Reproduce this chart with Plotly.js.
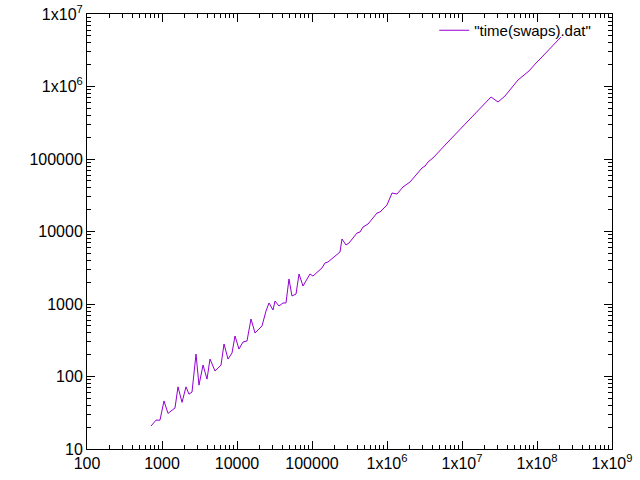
<!DOCTYPE html>
<html>
<head>
<script src="https://cdn.plot.ly/plotly-3.0.1.min.js"></script>
<style>body{margin:0;background:#fff}</style>
</head>
<body>
<div id="chart" style="width:640px;height:480px"></div>
<script>
// swaps vs time
let swaps = [713, 832, 940, 1063, 1202, 1359, 1490, 1634, 1849, 2089, 2291, 2512, 2840, 3113, 3524, 3981,
  4365, 5093, 6124, 6714, 7586, 8577, 9405, 10630, 12020, 13590, 15370, 17380, 21540, 24370, 26730, 30200,
  32140, 36310, 41050, 45000, 49320, 54080, 61240, 67140, 75860, 94000, 103000, 135900, 149000, 163300,
  222300, 236000, 251200, 283800, 311200, 398100, 436500, 478600, 558500, 735600, 807000, 1.0e6, 1.167e6,
  1.359e6, 1.634e6, 2.027e6, 2.931e6, 3.214e6, 3.524e6, 4.103e6, 6.31e6, 1.403e7, 1.849e7, 2.438e7,
  3.02e7, 3.741e7, 5.585e7, 7.82e7, 1.0e8, 1.097e8, 2.089e8];
let times = [20.7, 25, 25, 46, 31, 34.5, 36.8, 72, 44, 72, 57, 61, 204, 76, 144, 92,
  174, 119, 144, 281, 174, 211, 362, 239, 299, 309, 621, 398, 498, 800, 1033, 826,
  1099, 938, 1033, 1033, 2213, 1288, 1374, 2594, 1770, 2594, 2432, 3141, 3681, 3797,
  5047, 5212, 7889, 6517, 6938, 9528, 9840, 11530, 12690, 17990, 18580, 23230, 33960,
  32890, 41110, 48190, 75160, 80000, 91000, 103300, 166300, 391700, 521200, 716100,
  611000, 739600, 1.23e6, 1.637e6, 2.18e6, 2.393e6, 4.82e6];
let xTickVals = [100, 1000, 10000, 100000, 1e6, 1e7, 1e8, 1e9];
let xTickText = ['100', '1000', '10000', '100000', '1x10<sup>6</sup>', '1x10<sup>7</sup>', '1x10<sup>8</sup>', '1x10<sup>9</sup>'];
let yTickVals = [10, 100, 1000, 10000, 100000, 1e6, 1e7];
let yTickText = ['10', '100', '1000', '10000', '100000', '1x10<sup>6</sup>', '1x10<sup>7</sup>'];

let axisBase = {
  type: 'log',
  showgrid: false,
  zeroline: false,
  showline: true,
  mirror: 'ticks',
  linecolor: '#000',
  linewidth: 1,
  ticks: 'inside',
  ticklen: 8,
  tickcolor: '#000',
  tickmode: 'array',
  tickfont: {family: 'Liberation Sans, Arial, sans-serif', size: 16, color: '#000'},
  minor: {ticks: 'inside', ticklen: 4, tickcolor: '#000', dtick: 'D1', showgrid: false}
};

let trace = {
  x: swaps,
  y: times,
  type: 'scatter',
  mode: 'lines',
  name: '"time(swaps).dat"',
  line: {color: '#9400d3', width: 1}
};

let layout = {
  width: 640,
  height: 480,
  margin: {l: 87, r: 28, t: 14, b: 31},
  paper_bgcolor: '#fff',
  plot_bgcolor: '#fff',
  xaxis: Object.assign({}, axisBase, {range: [2, 9], tickvals: xTickVals, ticktext: xTickText}),
  yaxis: Object.assign({}, axisBase, {range: [1, 7], tickvals: yTickVals, ticktext: yTickText}),
  showlegend: true,
  legend: {
    x: 0.97, y: 1, xanchor: 'right', yanchor: 'top',
    bgcolor: 'rgba(0,0,0,0)',
    font: {family: 'Liberation Sans, Arial, sans-serif', size: 15, color: '#000'}
  }
};

Plotly.newPlot('chart', [trace], layout, {displayModeBar: false, staticPlot: true});
</script>
</body>
</html>
